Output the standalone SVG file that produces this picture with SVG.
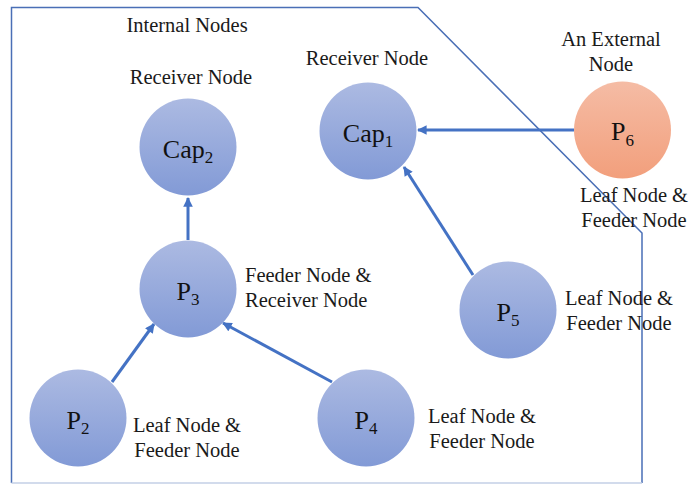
<svg xmlns="http://www.w3.org/2000/svg" width="693" height="485" viewBox="0 0 693 485">
<style>
.lbl{font-family:"Liberation Serif","Times New Roman",serif;font-size:20.5px;fill:#1a1a1a;text-anchor:middle}
.st{text-anchor:start}
.nl{font-family:"Liberation Serif","Times New Roman",serif;font-size:26px;fill:#111;text-anchor:middle}
.sub{font-size:17px}
.blue{fill:url(#gb)}
.orange{fill:url(#go)}
.edge{stroke:#4472c4;stroke-width:3;fill:none;marker-end:url(#ah)}
</style>
<defs>
<linearGradient id="gb" x1="0" y1="0" x2="0" y2="1">
<stop offset="0" stop-color="#acbae2"/>
<stop offset="1" stop-color="#829ad6"/>
</linearGradient>
<linearGradient id="go" x1="0" y1="0" x2="0" y2="1">
<stop offset="0" stop-color="#f5bca5"/>
<stop offset="1" stop-color="#f29f7c"/>
</linearGradient>
<marker id="ah" viewBox="0 0 10 10" refX="9" refY="5" markerWidth="3.4" markerHeight="3.2" orient="auto" markerUnits="strokeWidth">
<path d="M0,0 L10,5 L0,10 Z" fill="#4472c4"/>
</marker>
</defs>
<rect width="693" height="485" fill="#ffffff"/>
<g id="boundary">
<path d="M11.5,483 L11.5,7.5 L418,7.5 L642,233 L642,483" fill="none" stroke="#4a6fb6" stroke-width="1.5"/>
<line x1="11.5" y1="483" x2="642" y2="483" stroke="#c3cfe6" stroke-width="1.5"/>
<text class="lbl" x="187" y="32">Internal Nodes</text>
</g>
<g id="connectors">
<line class="edge" x1="188" y1="240" x2="188" y2="198"/>
<line class="edge" x1="112" y1="382" x2="154" y2="324"/>
<line class="edge" x1="332" y1="382" x2="223" y2="323"/>
<line class="edge" x1="473" y1="275" x2="404" y2="167"/>
<line class="edge" x1="574" y1="130" x2="418" y2="130"/>
</g>
<g id="cap2">
<circle class="blue" cx="188" cy="147" r="48.5"/>
<text class="nl" x="188" y="158">Cap<tspan class="sub" dy="5">2</tspan></text>
<text class="lbl" x="191" y="84">Receiver Node</text>
</g>
<g id="cap1">
<circle class="blue" cx="368" cy="131" r="48.5"/>
<text class="nl" x="368" y="142">Cap<tspan class="sub" dy="5">1</tspan></text>
<text class="lbl" x="367" y="65">Receiver Node</text>
</g>
<g id="p6">
<circle class="orange" cx="622.5" cy="130" r="48.5"/>
<text class="nl" x="622.5" y="140">P<tspan class="sub" dy="6">6</tspan></text>
<text class="lbl" x="611" y="46">An External</text>
<text class="lbl" x="611" y="71">Node</text>
<text class="lbl" x="634" y="202">Leaf Node &amp;</text>
<text class="lbl" x="634" y="227">Feeder Node</text>
</g>
<g id="p3">
<circle class="blue" cx="188" cy="289" r="48.5"/>
<text class="nl" x="188" y="300">P<tspan class="sub" dy="5">3</tspan></text>
<text class="lbl st" x="245" y="282">Feeder Node &amp;</text>
<text class="lbl st" x="245" y="307">Receiver Node</text>
</g>
<g id="p5">
<circle class="blue" cx="508" cy="310" r="48.5"/>
<text class="nl" x="508" y="321">P<tspan class="sub" dy="5">5</tspan></text>
<text class="lbl" x="619" y="305">Leaf Node &amp;</text>
<text class="lbl" x="619" y="330">Feeder Node</text>
</g>
<g id="p2">
<circle class="blue" cx="78" cy="418" r="48.5"/>
<text class="nl" x="78" y="429">P<tspan class="sub" dy="5">2</tspan></text>
<text class="lbl" x="187" y="432">Leaf Node &amp;</text>
<text class="lbl" x="187" y="457">Feeder Node</text>
</g>
<g id="p4">
<circle class="blue" cx="366" cy="418" r="48.5"/>
<text class="nl" x="366" y="429">P<tspan class="sub" dy="5">4</tspan></text>
<text class="lbl" x="482" y="423">Leaf Node &amp;</text>
<text class="lbl" x="482" y="448">Feeder Node</text>
</g>
</svg>
